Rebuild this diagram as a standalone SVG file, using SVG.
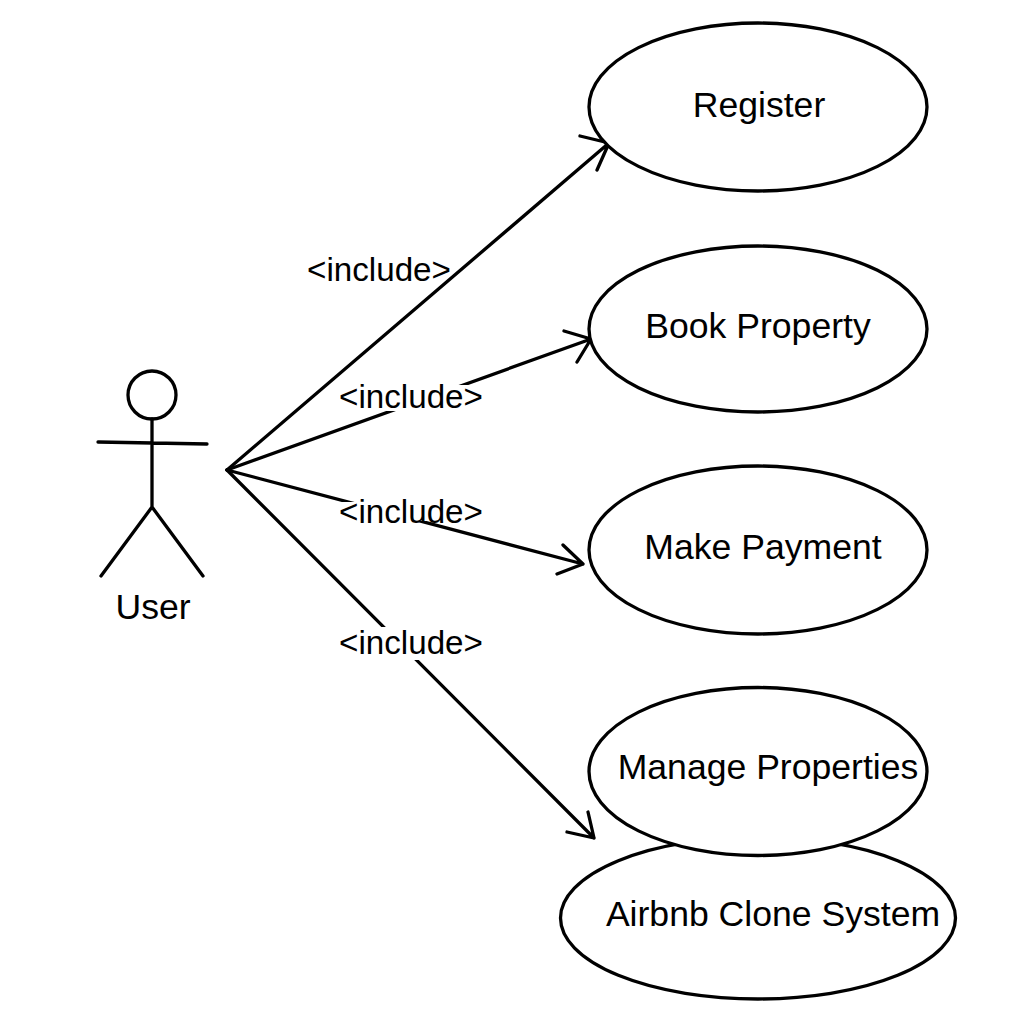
<svg xmlns="http://www.w3.org/2000/svg" width="1024" height="1024" viewBox="0 0 1024 1024">
<style>
.s{fill:none;stroke:#000;stroke-width:3.300;stroke-linecap:round;stroke-linejoin:round}
.e{fill:#fff;stroke:#000;stroke-width:3.300}
text{font-family:"Liberation Sans",Arial,sans-serif;fill:#000;font-size:35.6px}
.l{font-size:33.2px}
</style>
<rect width="1024" height="1024" fill="#fff"/>
<g id="connectors">
<path class="s" d="M227 470L609 143M580 136L609 143L597 170"/>
<path class="s" d="M227 470L591 339M564 331L591 339L577 362"/>
<path class="s" d="M227 470L583 564M563 545L583 564L557 574"/>
<path class="s" d="M227 470L594 838M588 812L594 838L567 832"/>
</g>
<g id="airbnb"><ellipse class="e" cx="758" cy="918" rx="197.500" ry="81"/><text x="773" y="926" text-anchor="middle">Airbnb Clone System</text></g>
<g id="register"><ellipse class="e" cx="758" cy="107" rx="169" ry="84"/><text x="759" y="117" text-anchor="middle">Register</text></g>
<g id="book"><ellipse class="e" cx="758" cy="329" rx="169" ry="83"/><text x="758" y="338" text-anchor="middle">Book Property</text></g>
<g id="payment"><ellipse class="e" cx="758" cy="550" rx="169" ry="84"/><text x="763" y="559" text-anchor="middle">Make Payment</text></g>
<g id="manage"><ellipse class="e" cx="758" cy="771.500" rx="169" ry="84"/><text x="768" y="779" text-anchor="middle">Manage Properties</text></g>
<g id="user">
<circle class="s" cx="152" cy="395" r="24"/>
<path class="s" d="M152 419V507M98 442L207 444M152 507L101 576M152 507L203 576"/>
<text x="153" y="619" text-anchor="middle">User</text>
</g>
<g id="labels">
<rect x="338" y="385" width="145" height="26" fill="#fff"/>
<rect x="338" y="502" width="145" height="19" fill="#fff"/>
<rect x="338" y="627" width="145" height="33" fill="#fff"/>
<text class="l" x="379" y="281" text-anchor="middle">&lt;include&gt;</text>
<text class="l" x="411" y="408" text-anchor="middle">&lt;include&gt;</text>
<text class="l" x="411" y="523" text-anchor="middle">&lt;include&gt;</text>
<text class="l" x="411" y="654" text-anchor="middle">&lt;include&gt;</text>
</g>
</svg>
